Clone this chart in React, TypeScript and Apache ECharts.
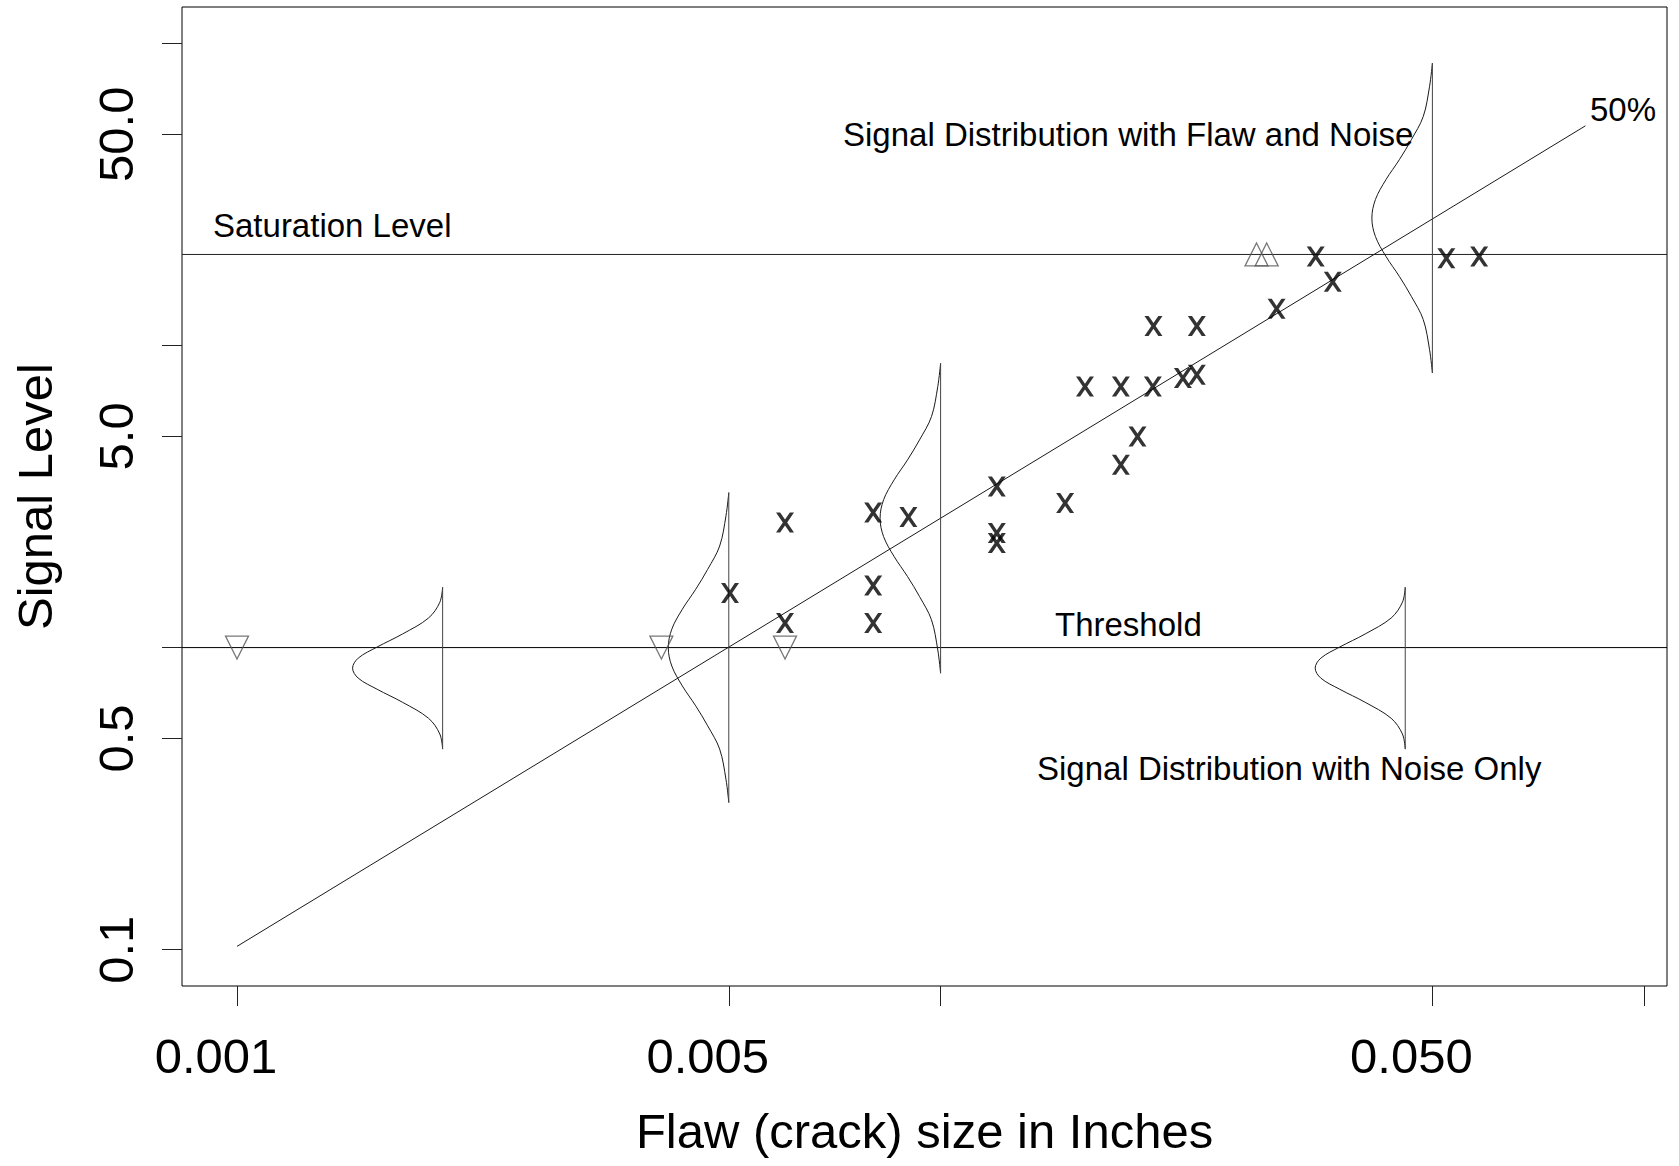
import React, { useEffect, useRef } from "react";
import * as echarts from "echarts";

// ---------------- data ----------------
const X_LIMITS = [0.001, 0.09];
const Y_LIMITS = [0.1, 100];

const X_TICKS = [0.001, 0.005, 0.01, 0.05, 0.1];
const X_LABEL_VALUES = [0.001, 0.005, 0.05];
const X_LABEL_TEXT = ["0.001", "0.005", "0.050"];
const Y_TICKS = [0.1, 0.5, 1, 5, 10, 50, 100];
const Y_LABEL_VALUES = [0.1, 0.5, 5, 50];
const Y_LABEL_TEXT = ["0.1", "0.5", "5.0", "50.0"];

const THRESHOLD = 1.0;
const SATURATION = 20;

// observed hits (flaw size, signal)
const HIT_SIZE = [
  0.00502, 0.00601, 0.00601, 0.00802, 0.009, 0.00802, 0.00802, 0.01202, 0.01202,
  0.01202, 0.01503, 0.01804, 0.01905, 0.01604, 0.01804, 0.02003, 0.0221, 0.02313,
  0.02007, 0.02313, 0.03003, 0.03609, 0.03413, 0.05234, 0.05827,
];
const HIT_SIGNAL = [
  1.515, 2.594, 1.205, 2.8, 2.703, 1.605, 1.205, 3.413, 2.393,
  2.217, 3.008, 4.026, 4.995, 7.31, 7.31, 7.31, 7.795, 7.993,
  11.6, 11.6, 13.22, 16.24, 19.69, 19.44, 19.69,
];
// censored below threshold / at saturation
const LOW_SIZE = [0.001, 0.00401, 0.00601];
const HIGH_SIZE = [0.02812, 0.02907];

// 50% line end points
const LINE_SIZE = [0.001, 0.0825];
const LINE_SIGNAL = [0.1026, 53.3];

// density curves: positions and centres
const NOISE_CURVE_SIZE = [0.00196, 0.04575];
const NOISE_CENTER = 0.855;
const FLAW_CURVE_SIZE = [0.005, 0.01, 0.05];
const FLAW_CURVE_CENTER = [1.0, 2.68, 26.4];
// shapes (offsets in decades)
const NOISE_DY = [0.268, 0.218, 0.166, 0.113, 0.07, 0.033, 0, -0.033, -0.07, -0.113, -0.166, -0.218, -0.268];
const NOISE_DX = [0, 0.004, 0.02, 0.057, 0.093, 0.12, 0.128, 0.12, 0.093, 0.057, 0.02, 0.004, 0];
const FLAW_DY = [0.513, 0.436, 0.336, 0.259, 0.193, 0.127, 0.061, 0, -0.061, -0.127, -0.193, -0.259, -0.336, -0.436, -0.513];
const FLAW_DX = [0, 0.004, 0.013, 0.03, 0.047, 0.066, 0.081, 0.086, 0.081, 0.066, 0.047, 0.03, 0.013, 0.004, 0];

// ---------------- option building ----------------
const L = Math.log10;
const FONT = '"Liberation Sans", Arial, Helvetica, sans-serif';
const INK = "#1a1a1a";

function buildOption() {
  const xr = L(X_LIMITS[1]) - L(X_LIMITS[0]);
  const yr = L(Y_LIMITS[1]) - L(Y_LIMITS[0]);
  const xMin = L(X_LIMITS[0]) - 0.04 * xr;
  const xMax = L(X_LIMITS[1]) + 0.04 * xr;
  const yMin = L(Y_LIMITS[0]) - 0.04 * yr;
  const yMax = L(Y_LIMITS[1]) + 0.04 * yr;

  const fmt = (vals: number[], texts: string[]) => (v: number) => {
    const i = vals.findIndex((t) => Math.abs(L(t) - v) < 1e-6);
    return i >= 0 ? texts[i] : "";
  };

  const line = (data: number[][], color = INK, smooth: number | boolean = false) => ({
    type: "line",
    data,
    symbol: "none",
    showSymbol: false,
    smooth,
    clip: false,
    silent: true,
    lineStyle: { color, width: 1 },
    z: 2,
  });

  const series: any[] = [];
  series.push(line([[xMin, L(THRESHOLD)], [xMax, L(THRESHOLD)]], "#000"));
  series.push(line([[xMin, L(SATURATION)], [xMax, L(SATURATION)]], "#222"));
  series.push(line(LINE_SIZE.map((x, i) => [L(x), L(LINE_SIGNAL[i])])));

  NOISE_CURVE_SIZE.forEach((x0) => {
    series.push(line(NOISE_DY.map((dy, i) => [L(x0) - NOISE_DX[i], L(NOISE_CENTER) + dy]), INK, 0.35));
    series.push(line([[L(x0), L(NOISE_CENTER) + NOISE_DY[0]], [L(x0), L(NOISE_CENTER) + NOISE_DY[NOISE_DY.length - 1]]], "#444"));
  });
  FLAW_CURVE_SIZE.forEach((x0, k) => {
    const c = L(FLAW_CURVE_CENTER[k]);
    series.push(line(FLAW_DY.map((dy, i) => [L(x0) - FLAW_DX[i], c + dy]), INK, 0.35));
    series.push(line([[L(x0), c + FLAW_DY[0]], [L(x0), c + FLAW_DY[FLAW_DY.length - 1]]], "#444"));
  });

  series.push({
    type: "scatter",
    data: HIT_SIZE.map((x, i) => [L(x), L(HIT_SIGNAL[i])]),
    symbol: "path://M0 0H23L50 39L77 0H100L62 55L100 110H77L50 71L23 110H0L38 55Z",
    symbolSize: [18, 20],
    itemStyle: { color: "#000" },
    silent: true,
    z: 5,
  });
  series.push({
    type: "scatter",
    data: LOW_SIZE.map((x) => [L(x), L(THRESHOLD)]),
    symbol: "triangle",
    symbolRotate: 180,
    symbolSize: 23,
    itemStyle: { color: "rgba(0,0,0,0)", borderColor: "#555", borderWidth: 1.3 },
    silent: true,
    z: 5,
  });
  series.push({
    type: "scatter",
    data: HIGH_SIZE.map((x) => [L(x), L(SATURATION)]),
    symbol: "triangle",
    symbolSize: 23,
    itemStyle: { color: "rgba(0,0,0,0)", borderColor: "#555", borderWidth: 1.3 },
    silent: true,
    z: 5,
  });

  const ann = (text: string, x: number, baseline: number, fs = 33) => ({
    type: "text",
    silent: true,
    z: 10,
    style: {
      text,
      x,
      y: baseline - 0.3465 * fs,
      font: `${fs}px ${FONT}`,
      fill: "#000",
      align: "left",
      textAlign: "left",
      verticalAlign: "middle",
      textVerticalAlign: "middle",
    },
  });

  return {
    animation: false,
    backgroundColor: "#ffffff",
    textStyle: { fontFamily: FONT },
    grid: {
      left: 182,
      top: 7,
      width: 1485,
      height: 979,
      show: true,
      borderColor: "#000",
      borderWidth: 1,
      backgroundColor: "transparent",
      containLabel: false,
      outerBoundsMode: "none",
    },
    xAxis: {
      type: "value",
      min: xMin,
      max: xMax,
      axisLine: { show: false, onZero: false },
      splitLine: { show: false },
      axisTick: {
        show: true,
        inside: false,
        length: 20,
        customValues: X_TICKS.map(L),
        lineStyle: { color: "#222", width: 1 },
      },
      axisLabel: {
        customValues: X_LABEL_VALUES.map(L),
        formatter: fmt(X_LABEL_VALUES, X_LABEL_TEXT),
        fontSize: 49,
        fontFamily: FONT,
        color: "#000",
        margin: 45,
        padding: [0, 42, 0, 0],
      },
      name: "Flaw (crack) size in Inches",
      nameLocation: "middle",
      nameGap: 120,
      nameTextStyle: { fontSize: 49, fontFamily: FONT, color: "#000" },
    },
    yAxis: {
      type: "value",
      min: yMin,
      max: yMax,
      axisLine: { show: false, onZero: false },
      splitLine: { show: false },
      axisTick: {
        show: true,
        inside: false,
        length: 20,
        customValues: Y_TICKS.map(L),
        lineStyle: { color: "#222", width: 1 },
      },
      axisLabel: {
        customValues: Y_LABEL_VALUES.map(L),
        formatter: fmt(Y_LABEL_VALUES, Y_LABEL_TEXT),
        rotate: 90,
        fontSize: 49,
        fontFamily: FONT,
        color: "#000",
        margin: 42,
      },
      name: "Signal Level",
      nameLocation: "middle",
      nameGap: 123,
      nameRotate: 90,
      nameTextStyle: { fontSize: 49, fontFamily: FONT, color: "#000" },
    },
    series,
    graphic: [
      ann("Saturation Level", 213, 237),
      ann("Signal Distribution with Flaw and Noise", 843, 146),
      ann("50%", 1590, 121),
      ann("Threshold", 1055, 636),
      ann("Signal Distribution with Noise Only", 1037, 780),
    ],
  };
}

export default function App() {
  const ref = useRef<HTMLDivElement>(null);
  useEffect(() => {
    if (!ref.current) return;
    const chart = echarts.init(ref.current, null, { renderer: "svg" });
    chart.setOption(buildOption() as any);
    return () => chart.dispose();
  }, []);
  return (
    <div
      ref={ref}
      style={{ position: "absolute", left: 0, top: 0, width: 1679, height: 1166, background: "#fff" }}
    />
  );
}
